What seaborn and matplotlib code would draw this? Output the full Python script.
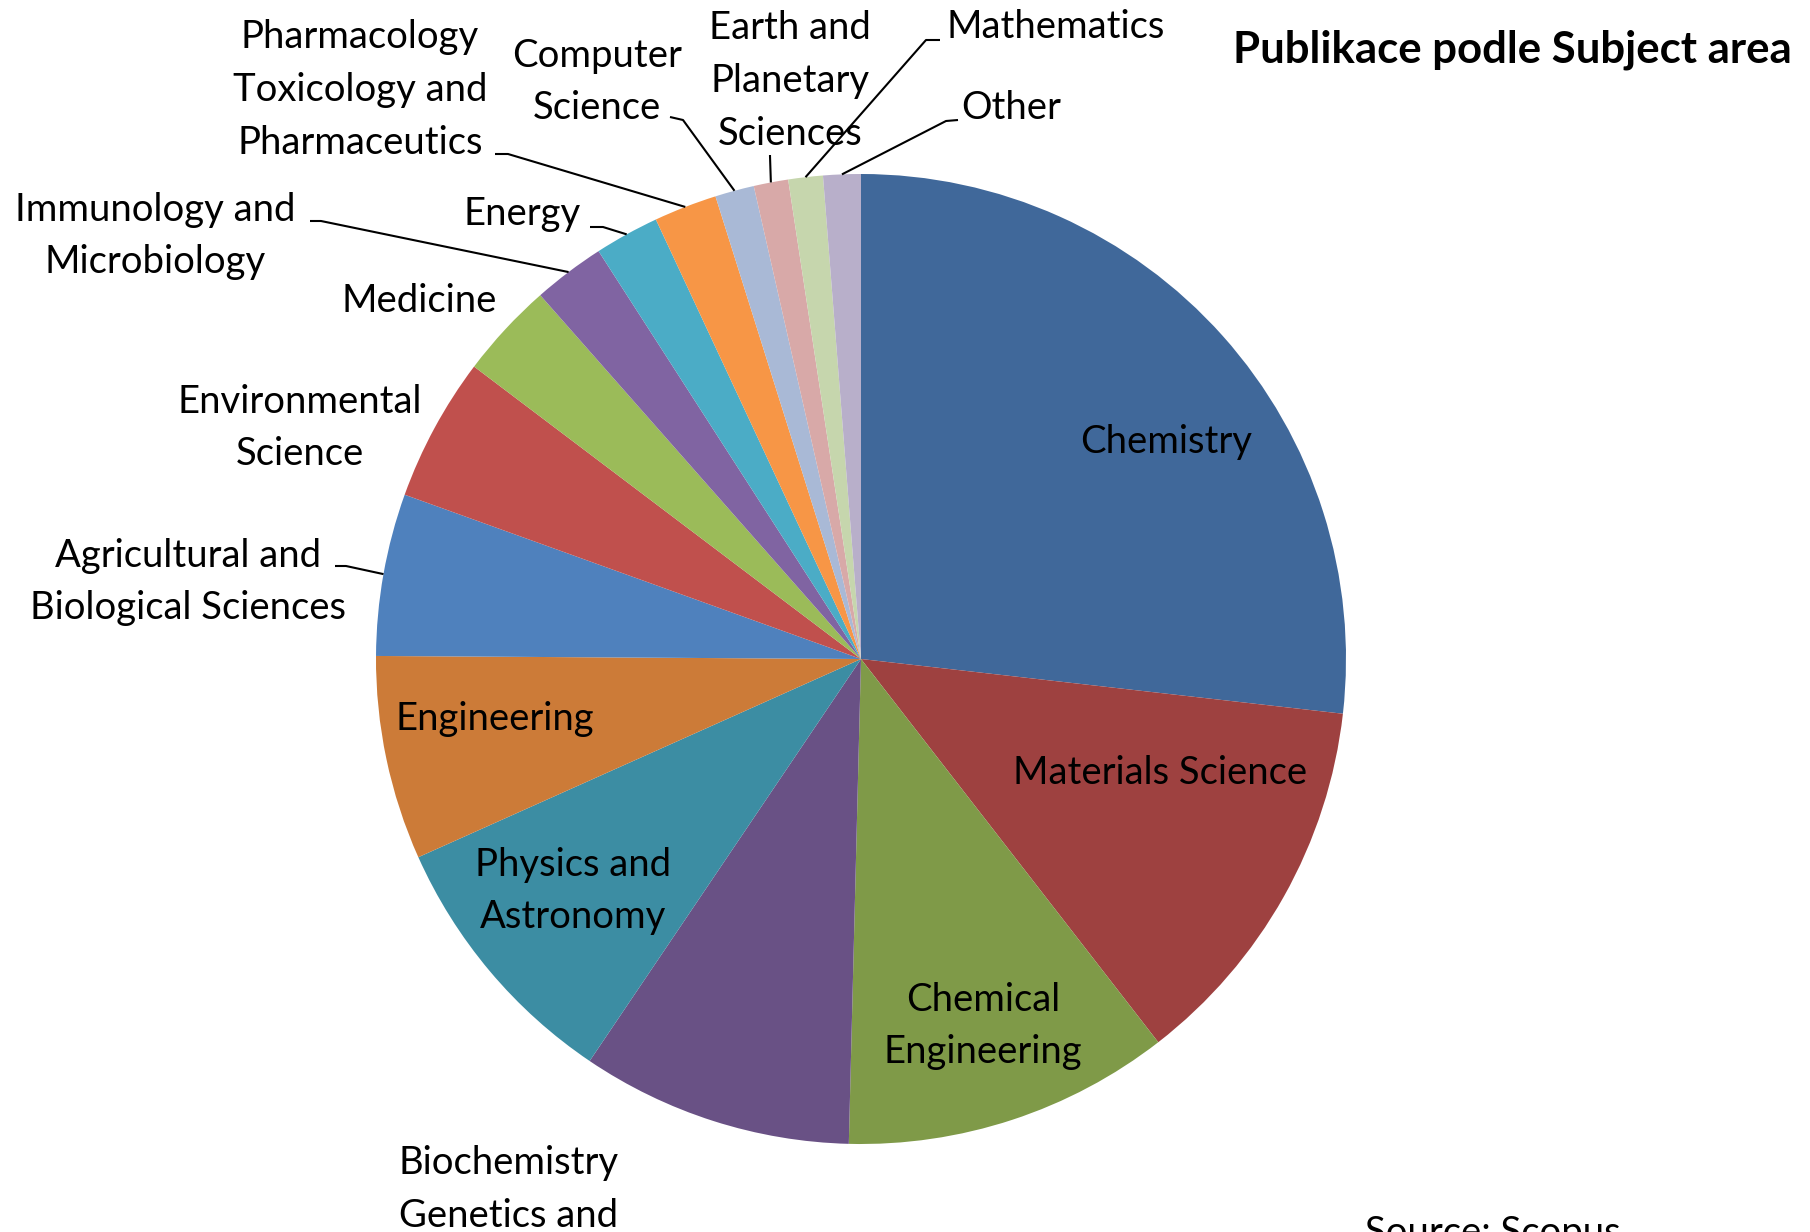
import numpy as np
import seaborn as sns
import matplotlib.pyplot as plt

# data (share of publications)
oblasti = ["Chemistry", "Materials Science", "Chemical Engineering",
           "Biochemistry Genetics and Molecular Biology", "Physics and Astronomy",
           "Engineering", "Agricultural and Biological Sciences", "Environmental Science",
           "Medicine", "Immunology and Microbiology", "Energy",
           "Pharmacology Toxicology and Pharmaceutics", "Computer Science",
           "Earth and Planetary Sciences", "Mathematics", "Other"]
podil = [26.8, 12.7, 10.9, 9.05, 8.85, 6.8, 5.4, 4.8, 3.2, 2.4, 2.15, 2.1, 1.3, 1.15, 1.15, 1.25]
barvy = ["#40689A", "#9E4140", "#7F9A48", "#695185", "#3C8DA3", "#CC7B38",
         "#4F81BD", "#C0504D", "#9BBB59", "#8064A2", "#4BACC6", "#F79646",
         "#A9B9D6", "#D8A9A8", "#C6D6AD", "#B8AFCA"]

# label texts as displayed
popisky = ["Chemistry", "Materials Science", "Chemical\nEngineering",
           "Biochemistry\nGenetics and\nMolecular Biology", "Physics and\nAstronomy",
           "Engineering", "Agricultural and\nBiological Sciences", "Environmental\nScience",
           "Medicine", "Immunology and\nMicrobiology", "Energy",
           "Pharmacology\nToxicology and\nPharmaceutics", "Computer\nScience",
           "Earth and\nPlanetary\nSciences", "Mathematics", "Other"]

# label centres in pixels (x, y from top)
pozice = [(1166, 442), (1160, 773), (983, 1026), (509, 1216), (573, 891),
          (495, 719), (188, 582), (300, 428), (419, 301), (155, 236),
          (522, 214), (360, 90), (597, 82), (790, 81), (1056, 27), (1011, 108)]
# leader line stubs (start, end) in pixels, None = no leader
vodici = [None, None, None, None, None, None,
          ((335, 566), (346, 566)), None, None,
          ((310, 221), (321, 221)), ((590, 227), (603, 227)),
          ((495, 154), (508, 154)), ((670, 117), (683, 120)),
          ((770, 155), (770, 156)), ((940, 40), (926, 40)), ((958, 120), (946, 121))]

sns.set_theme(style="white")
plt.rcParams['font.family'] = ['Lato', 'DejaVu Sans']

W, H = 1810, 1232
cx, cy, R = 861, 659, 485

def px(x, y):
    return ((x - cx) / R, (cy - y) / R)

fig = plt.figure(figsize=(W / 100, H / 100), dpi=100)
ax = fig.add_axes([0, 0, 1, 1])
wedges, _ = ax.pie(podil, colors=sns.color_palette(barvy), startangle=90,
                   counterclock=False, wedgeprops=dict(linewidth=0))
ax.set_xlim(-cx / R, (W - cx) / R)
ax.set_ylim(-(H - cy) / R, cy / R)
ax.set_aspect('auto')
ax.axis('off')

for w, txt, (x, y), v in zip(wedges, popisky, pozice, vodici):
    ax.text(*px(x, y), txt, ha='center', va='center', fontsize=27.5,
            linespacing=1.57, color='black')
    if v is not None:
        uhel = np.deg2rad((w.theta1 + w.theta2) / 2)
        a = px(*v[0])
        b = px(*v[1])
        ax.plot([a[0], b[0], np.cos(uhel)], [a[1], b[1], np.sin(uhel)],
                color='black', lw=1.5, solid_capstyle='butt')

ax.text(*px(1233, 63), "Publikace podle Subject area", ha='left', va='baseline',
        fontsize=31.5, fontweight='bold', color='black')
ax.text(*px(1365, 1215), "Source: Scopus", ha='left', va='top', fontsize=27.5,
        color='black')

fig.savefig("out.png", dpi=100)
